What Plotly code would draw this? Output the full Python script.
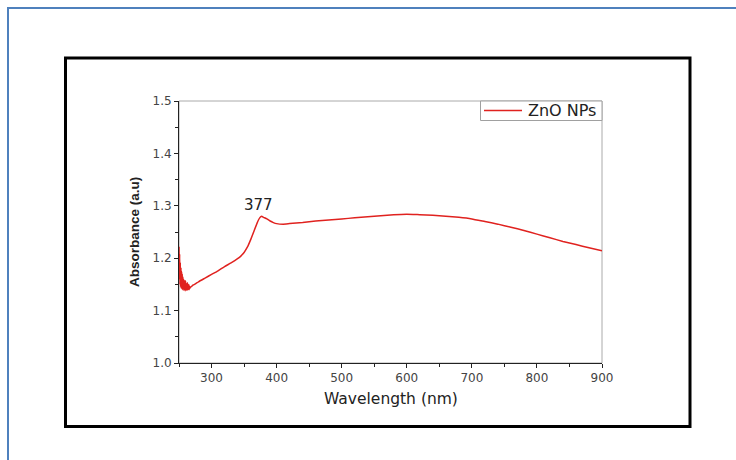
import plotly.graph_objects as go

# Data
wavelength = [250, 250.5, 251, 251.5, 252, 252.5, 253, 253.5, 254, 254.5, 255, 255.5, 256,
              256.5, 257, 257.5, 258, 258.5, 259, 259.5, 260, 260.5, 261, 261.5, 262, 262.5,
              263, 263.5, 264, 264.5, 265, 265.5, 266, 266.5, 267, 268, 270, 272, 275, 280,
              290, 300, 310, 320, 330, 340, 345, 350, 355, 360, 365, 370, 374, 377, 380,
              385, 390, 395, 400, 410, 420, 440, 460, 480, 500, 520, 540, 560, 580, 600, 620,
              640, 660, 680, 700, 720, 740, 760, 780, 800, 820, 840, 860, 880, 900]
absorbance = [1.222, 1.160, 1.208, 1.150, 1.192, 1.145, 1.182, 1.142, 1.175, 1.146, 1.170,
              1.140, 1.164, 1.146, 1.160, 1.139, 1.158, 1.143, 1.156, 1.138, 1.157, 1.141,
              1.152, 1.139, 1.151, 1.142, 1.153, 1.139, 1.148, 1.141, 1.150, 1.140, 1.147,
              1.142, 1.144, 1.145, 1.147, 1.149, 1.151, 1.155, 1.162, 1.169, 1.176, 1.184,
              1.191, 1.199, 1.204, 1.211, 1.221, 1.235, 1.251, 1.267, 1.277, 1.280, 1.278,
              1.275, 1.271, 1.268, 1.266, 1.265, 1.266, 1.268, 1.271, 1.273, 1.275, 1.277,
              1.279, 1.281, 1.283, 1.284, 1.283, 1.282, 1.280, 1.278, 1.275, 1.270, 1.265,
              1.259, 1.253, 1.246, 1.239, 1.232, 1.226, 1.220, 1.214]
series_name = "ZnO NPs"
peak_label = "377"
peak_x = 377
peak_y = 1.280
x_ticks = [300, 400, 500, 600, 700, 800, 900]
y_ticks = [1.0, 1.1, 1.2, 1.3, 1.4, 1.5]

W, H = 736, 460
L, R, T, B = 179, 602, 101, 363   # plot-area pixel box
RED = "#e0221f"

def px(x):
    return (x - L) / (R - L)

def py(y):
    return (B - y) / (B - T)

WIDE = "DejaVu Sans, Verdana, sans-serif"
ARIAL = "Liberation Sans, Arial, sans-serif"

fig = go.Figure()
fig.add_trace(go.Scatter(
    x=wavelength, y=absorbance, mode="lines", name=series_name,
    line=dict(color=RED, width=1.5, shape="spline", smoothing=0.4), showlegend=False,
))

fig.add_annotation(x=peak_x, y=peak_y, text=peak_label, showarrow=False,
                   yshift=11, xshift=-3, font=dict(family=WIDE, size=15, color="#222"))

# axis titles
fig.add_annotation(xref="paper", yref="paper", x=px(390.5), y=py(399), text="Wavelength (nm)",
                   showarrow=False, xanchor="center", yanchor="middle",
                   font=dict(family=WIDE, size=15.5, color="#222"))
fig.add_annotation(xref="paper", yref="paper", x=px(134), y=py(232), text="<b>Absorbance (a.u)</b>",
                   showarrow=False, xanchor="center", yanchor="middle", textangle=-90,
                   font=dict(family=ARIAL, size=13.5, color="#222"))

# legend (drawn box, line sample and label)
fig.add_annotation(xref="paper", yref="paper", x=px(526), y=py(111), text=series_name,
                   showarrow=False, xanchor="left", yanchor="middle",
                   font=dict(family=WIDE, size=16, color="#222"))

shapes = [
    # outer blue frame
    dict(type="rect", xref="paper", yref="paper",
         x0=px(8), x1=px(745), y0=py(470), y1=py(8),
         line=dict(color="#4f81bd", width=2), layer="below"),
    # black frame
    dict(type="rect", xref="paper", yref="paper",
         x0=px(65.5), x1=px(690), y0=py(426.5), y1=py(58),
         line=dict(color="#000", width=3), layer="below"),
    # grey top/right plot border
    dict(type="rect", xref="paper", yref="paper",
         x0=0, x1=1, y0=0, y1=1,
         line=dict(color="#aaaaaa", width=1), layer="below"),
    # legend box
    dict(type="rect", xref="paper", yref="paper",
         x0=px(480.5), x1=1, y0=py(120.5), y1=1,
         line=dict(color="#a0a0a0", width=1), fillcolor="white", layer="above"),
    dict(type="line", xref="paper", yref="paper",
         x0=px(484), x1=px(522), y0=py(110.5), y1=py(110.5),
         line=dict(color=RED, width=1.5), layer="above"),
]

fig.update_layout(
    width=W, height=H,
    margin=dict(l=L, r=W - R, t=T, b=H - B),
    paper_bgcolor="white", plot_bgcolor="white",
    font=dict(family=WIDE, color="#333"),
    shapes=shapes,
    showlegend=False,
    xaxis=dict(range=[250, 900], tickvals=x_ticks, ticks="outside", ticklen=4,
               tickcolor="#222", showline=True, linecolor="#222", linewidth=1,
               showgrid=False, zeroline=False,
               tickfont=dict(family=WIDE, size=12, color="#444"),
               minor=dict(ticks="outside", ticklen=3, tickcolor="#222", dtick=50, tick0=250)),
    yaxis=dict(range=[1.0, 1.5], tickvals=y_ticks, tickformat=".1f", ticks="outside",
               ticklen=4, tickcolor="#222", showline=True, linecolor="#222", linewidth=1,
               showgrid=False, zeroline=False,
               tickfont=dict(family=WIDE, size=12, color="#444"),
               minor=dict(ticks="outside", ticklen=3, tickcolor="#222", dtick=0.05, tick0=1.0)),
)

fig.write_html("out.html")
